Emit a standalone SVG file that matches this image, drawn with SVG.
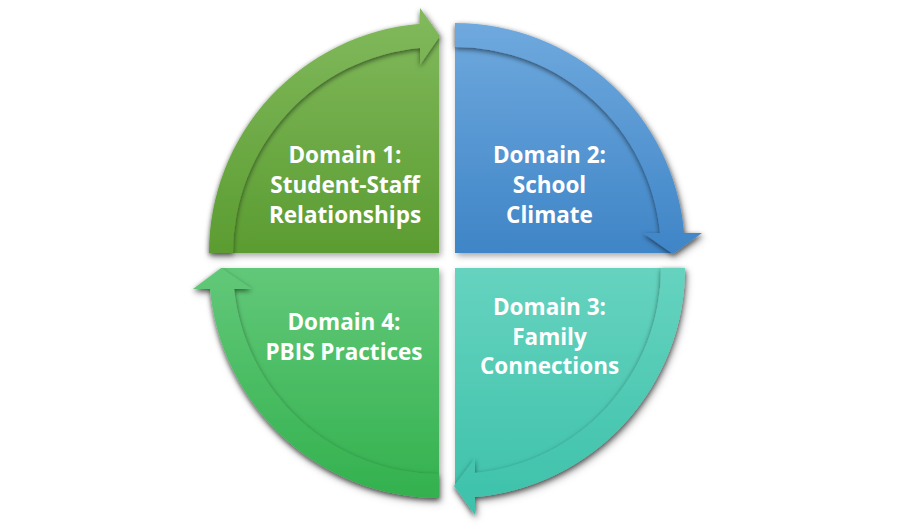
<svg xmlns="http://www.w3.org/2000/svg" width="900" height="529" viewBox="0 0 900 529">
  <defs>
    <linearGradient id="g1" gradientUnits="userSpaceOnUse" x1="0" y1="8" x2="0" y2="253">
      <stop offset="0" stop-color="#82ba5d"/>
      <stop offset="1" stop-color="#5b9c31"/>
    </linearGradient>
    <linearGradient id="g2" gradientUnits="userSpaceOnUse" x1="0" y1="23" x2="0" y2="253">
      <stop offset="0" stop-color="#6fa9de"/>
      <stop offset="1" stop-color="#3f85c7"/>
    </linearGradient>
    <linearGradient id="g3" gradientUnits="userSpaceOnUse" x1="0" y1="268" x2="0" y2="515">
      <stop offset="0" stop-color="#66d3bf"/>
      <stop offset="1" stop-color="#3cc1aa"/>
    </linearGradient>
    <linearGradient id="g4" gradientUnits="userSpaceOnUse" x1="0" y1="268" x2="0" y2="498">
      <stop offset="0" stop-color="#62c879"/>
      <stop offset="1" stop-color="#33b14e"/>
    </linearGradient>
    <filter id="drop" x="-10%" y="-10%" width="130%" height="130%">
      <feDropShadow dx="2" dy="3" stdDeviation="3" flood-color="#000" flood-opacity="0.35"/>
    </filter>
    <filter id="bandShadow" x="-10%" y="-10%" width="130%" height="130%">
      <feDropShadow dx="0" dy="2" stdDeviation="2.5" flood-color="#000" flood-opacity="0.55"/>
    </filter>
  </defs>
  <style>
    .lbl { font-family: "Open Sans", "Noto Sans", "DejaVu Sans", sans-serif; font-weight: bold; font-size: 22.5px; fill: #ffffff; text-anchor: middle; }
  </style>
  <rect x="0" y="0" width="900" height="529" fill="#ffffff"/>

  <g id="domain1">
    <g filter="url(#drop)">
      <path d="M439,253 L221,253 A218 218 0 0 1 439,35 Z" fill="url(#g1)"/>
      <path filter="url(#bandShadow)" d="M209,253 A230 230 0 0 1 420,23.8 L420,8 L440,36 L420,65 L420,47.9 A206 206 0 0 0 233,253 Z" fill="url(#g1)"/>
    </g>
    <text class="lbl"><tspan x="345" y="163">Domain 1:</tspan><tspan x="345" y="193">Student-Staff</tspan><tspan x="345" y="223">Relationships</tspan></text>
  </g>

  <g id="domain2">
    <g filter="url(#drop)">
      <path d="M455,253 L455,35 A218 218 0 0 1 673,253 Z" fill="url(#g2)"/>
      <path filter="url(#bandShadow)" d="M455,23 A230 230 0 0 1 684.1,233 L702,233 L673,254 L643,233 L660,233 A206 206 0 0 0 455,47 Z" fill="url(#g2)"/>
    </g>
    <text class="lbl"><tspan x="549.5" y="163">Domain 2:</tspan><tspan x="549.5" y="193">School</tspan><tspan x="549.5" y="223">Climate</tspan></text>
  </g>

  <g id="domain3">
    <g filter="url(#drop)">
      <path d="M455,268 L673,268 A218 218 0 0 1 455,486 Z" fill="url(#g3)"/>
      <path filter="url(#bandShadow)" d="M685,268 A230 230 0 0 1 475,497.1 L475,515 L454,486 L475,458 L475,473 A206 206 0 0 0 661,268 Z" fill="url(#g3)"/>
    </g>
    <text class="lbl"><tspan x="549.5" y="315">Domain 3:</tspan><tspan x="549.5" y="345">Family</tspan><tspan x="549.5" y="374">Connections</tspan></text>
  </g>

  <g id="domain4">
    <g filter="url(#drop)">
      <path d="M439,268 L439,486 A218 218 0 0 1 221,268 Z" fill="url(#g4)"/>
      <path filter="url(#bandShadow)" d="M439,498 A230 230 0 0 1 210,289 L193,289 L221,268 L252,289 L234.1,289 A206 206 0 0 0 439,474 Z" fill="url(#g4)"/>
    </g>
    <text class="lbl"><tspan x="344" y="330">Domain 4:</tspan><tspan x="344" y="360">PBIS Practices</tspan></text>
  </g>

  <g id="connectors"/>
</svg>
